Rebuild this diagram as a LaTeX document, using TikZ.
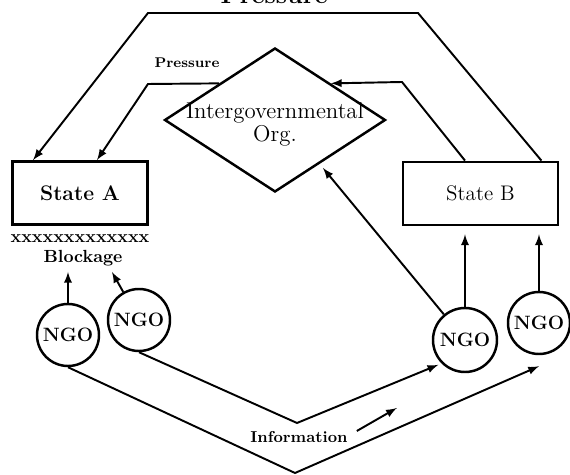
\documentclass[tikz,border=0pt]{standalone}
\usepackage{tikz}
\usetikzlibrary{calc}
\usetikzlibrary{shapes,arrows,positioning}
\usetikzlibrary{shapes.geometric}

\tikzset{
	statebox/.style={draw,line width=1.6pt,minimum width=#1,minimum height=1.26cm,font=\large},
	igo/.style={draw,diamond,line width=1.4pt,minimum width=4.42cm,minimum height=2.88cm,inner sep=0pt},
	ngo/.style={draw,circle,line width=1.4pt,minimum size=1.24cm,inner sep=0pt,font=\fontsize{11}{12}\selectfont\bfseries},
	link/.style={line width=1.1pt},
	arr/.style={-latex,line width=1.1pt}
}

\begin{document}
\begin{tikzpicture}[transform shape,scale=1]
	\useasboundingbox (0,0) rectangle (11.4,9.5);
	\clip (0,0) rectangle (11.4,9.5);
	% title, cut by the top edge
	\node[anchor=base,font=\Large\bfseries] (title) at (5.48,9.42) {Pressure};
	% states and the organisation
	\node[statebox=2.7cm,font=\large\bfseries] (stateA) at (1.6,5.64) {State A};
	\node[statebox=3.1cm] (stateB) at (9.61,5.63) {State B};
	\node[igo] (igo) at (5.5,7.1) {};
	\node[align=center,font=\fontsize{13}{13}\selectfont,inner sep=0pt] (igotext) at (5.5,7.02) {Intergovernmental\\Org.};
	\node[font=\bfseries,inner sep=0pt] (xline) at (1.6,4.72) {xxxxxxxxxxxxx};
	\node[font=\bfseries] (block) at (1.66,4.34) {Blockage};
	\node[font=\footnotesize\bfseries] (pres) at (3.74,8.24) {Pressure};
	% NGOs
	\node[ngo] (ngoA) at (1.36,2.8) {NGO};
	\node[ngo] (ngoB) at (2.78,3.1) {NGO};
	\node[ngo,minimum size=1.28cm] (ngoC) at (9.3,2.7) {NGO};
	\node[ngo] (ngoD) at (10.78,3.04) {NGO};
	\node[font=\small\bfseries] (info) at (5.98,0.76) {Information};

	\coordinate (outR) at (8.36,9.24);
	\coordinate (outL) at (2.96,9.24);
	\coordinate (inR) at (8.04,7.86);
	\coordinate (inL) at (2.96,7.82);
	\coordinate (tipA) at (1.36,4.06);
	\coordinate (tipB) at (2.24,4.06);
	\coordinate (tipI) at (6.46,6.14);
	\coordinate (bendB) at (5.94,1.04);
	\coordinate (bendA) at (5.9,0.04);

	% pressure
	\draw[arr] ([xshift=-0.36cm]stateB.north east) -- (outR) -- (outL) -- ([xshift=0.44cm]stateA.north west);
	\draw[arr] ([xshift=-0.31cm]stateB.north) -- (inR) -- (igo.north east);
	\draw[arr] (igo.north west) -- (inL) -- ([xshift=0.34cm]stateA.north);
	% blockage
	\draw[arr] (ngoA) -- (tipA);
	\draw[arr] (ngoB) -- (tipB);
	% NGOs upwards
	\draw[arr,shorten >=0.16cm] (ngoC) -- (ngoC |- stateB.south);
	\draw[arr,shorten >=0.16cm] (ngoD) -- (ngoD |- stateB.south);
	\draw[arr] (ngoC) -- (tipI);
	% information
	\draw[arr,shorten >=2pt] (ngoB.south) -- (bendB) -- (ngoC.south west);
	\draw[arr] (ngoA.south) -- (bendA) -- ([yshift=-0.22cm]ngoD.south);
	\draw[arr] ([shift={(0.06,0.12)}]info.east) -- ++(0.8,0.46);
\end{tikzpicture}
\end{document}
